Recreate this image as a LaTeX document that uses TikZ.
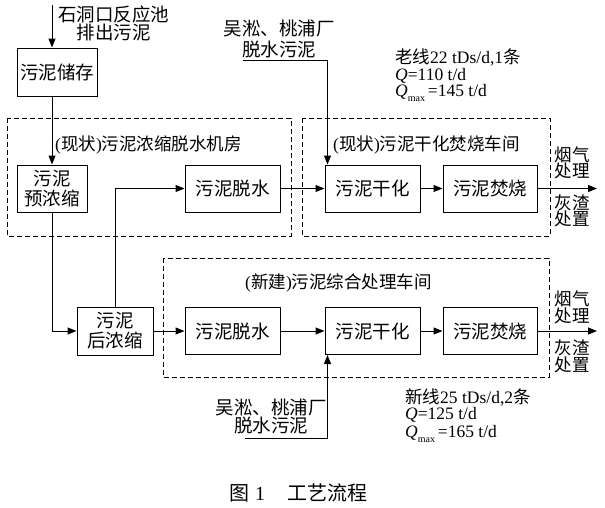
\documentclass[tikz,border=0pt]{standalone}
\usepackage{fontspec}
\setmainfont{Liberation Serif}
\newfontfamily\cjk{Noto Sans CJK SC}
\usetikzlibrary{arrows.meta}
\begin{document}
\begin{tikzpicture}[x=1pt,y=-1pt,
  box/.style={draw,line width=1pt,minimum width=95pt,minimum height=47pt,inner sep=0pt,
    font=\cjk\fontsize{18.5}{20}\selectfont,align=center},
  ln/.style={line width=1pt},
  arr/.style={ln,-{Triangle[length=9pt,width=7pt]}},
  area/.style={draw,line width=1pt,dash pattern=on 5pt off 3pt},
  txt/.style={inner sep=0pt,font=\cjk\fontsize{18.5}{18}\selectfont,align=center},
  lbl/.style={inner sep=0pt,anchor=west,font=\cjk\fontsize{17.5}{18}\selectfont},
  note/.style={inner sep=0pt,anchor=west,font=\fontsize{17.5}{18}\selectfont},
  side/.style={inner sep=0pt,font=\cjk\fontsize{17.5}{16.5}\selectfont,align=center}
]
\useasboundingbox (0,0) rectangle (605,507);
\fill[white] (0,0) rectangle (605,507);

% dashed areas
\draw[area] (7,118) rectangle (291,236);
\draw[area] (302,118) rectangle (550,236);
\draw[area] (163,258) rectangle (549,377);

% boxes
\node[box,minimum width=80pt,minimum height=48pt] (store) at (57,72) {污泥储存};
\node[box,minimum width=70pt] (pre) at (52,188.5) {污泥\\预浓缩};
\node[box] (dew1) at (232.5,188.5) {污泥脱水};
\node[box] (dry1) at (372.5,188.5) {污泥干化};
\node[box,minimum width=94pt] (inc1) at (490,188.5) {污泥焚烧};
\node[box,minimum width=76pt,minimum height=48pt] (post) at (115,331) {污泥\\后浓缩};
\node[box] (dew2) at (232.5,331) {污泥脱水};
\node[box] (dry2) at (372.5,331) {污泥干化};
\node[box,minimum width=94pt] (inc2) at (490,331) {污泥焚烧};

% labels
\node[txt] (srcT) at (113.5,23) {石洞口反应池\\排出污泥};
\node[txt,font=\cjk\fontsize{18.5}{21}\selectfont] (wT1) at (279,38.5) {吴淞、桃浦厂\\脱水污泥};
\node[txt] (wT2) at (271,416) {吴淞、桃浦厂\\脱水污泥};
\node[lbl] (l1) at (55,145) {{\rmfamily(}现状{\rmfamily)}污泥浓缩脱水机房};
\node[lbl] (l2) at (333,145) {{\rmfamily(}现状{\rmfamily)}污泥干化焚烧车间};
\node[lbl] (l3) at (245,283) {{\rmfamily(}新建{\rmfamily)}污泥综合处理车间};

\node[side] (g1) at (572,163) {烟气\\处理};
\node[side] (a1) at (572,211) {灰渣\\处置};
\node[side] (g2) at (572,307.5) {烟气\\处理};
\node[side] (a2) at (572,356.5) {灰渣\\处置};

\node[note] (n1) at (395,57) {{\cjk 老线}22 tDs/d,1{\cjk 条}};
\node[note] (n2) at (395,76) {{\itshape Q}=110 t/d};
\node[note] (n3) at (395,93) {{\itshape Q}\raisebox{-5pt}{\fontsize{10}{10}\selectfont max}\,=145 t/d};
\node[note] (m1) at (405,397) {{\cjk 新线}25 tDs/d,2{\cjk 条}};
\node[note] (m2) at (405,415) {{\itshape Q}=125 t/d};
\node[note] (m3) at (405,434) {{\itshape Q}\raisebox{-5pt}{\fontsize{10}{10}\selectfont max}\,=165 t/d};

\node[inner sep=0pt,anchor=west,font=\cjk\fontsize{20}{20}\selectfont] (cap) at (229,493)
  {图\hspace{6pt}{\rmfamily 1}\hspace{22pt}工艺流程};

% connectors
\coordinate (src) at (52,5);
\draw[arr] (src) -- (src |- store.north);
\draw[arr] (store.south -| pre.north) -- (pre.north);
\draw[arr] (pre.south) |- (post.west);
\draw[arr] (post.north) |- (dew1.west);
\draw[arr] (dew1.east) -- (dry1.west);
\draw[arr] (dry1.east) -- (inc1.west);
\coordinate (out1) at (597,188.5);
\draw[arr] (inc1.east) -- (out1);
\draw[arr] (post.east) -- (dew2.west);
\draw[arr] (dew2.east) -- (dry2.west);
\draw[arr] (dry2.east) -- (inc2.west);
\coordinate (out2) at (597,331);
\draw[arr] (inc2.east) -- (out2);
\coordinate (w1) at (243,60);
\draw[arr] (w1) -| ([xshift=3pt]dry1.north west);
\coordinate (w2) at (245,438);
\draw[arr] (w2) -| ([xshift=3pt]dry2.south west);
\end{tikzpicture}
\end{document}
